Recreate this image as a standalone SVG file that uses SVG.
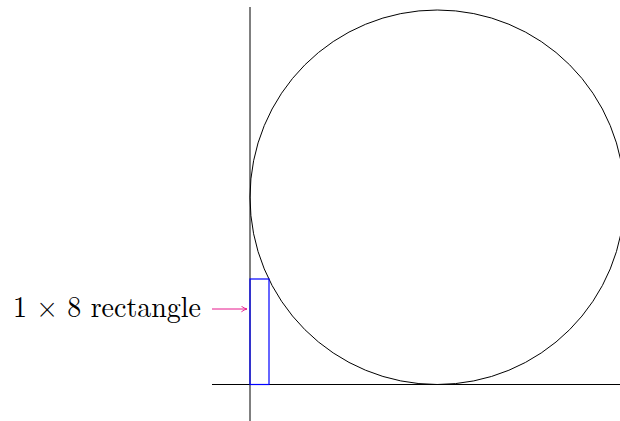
<svg xmlns="http://www.w3.org/2000/svg" width="620" height="421" viewBox="0 0 620 421">
<defs>
<style>
.ax{stroke:#000;stroke-width:1;fill:none}
.lbl{font-family:"Latin Modern Roman","Liberation Serif",serif;font-size:29px;fill:#000}
</style>
<marker id="to" viewBox="0 0 10 10" refX="9" refY="5" markerWidth="7" markerHeight="7" markerUnits="userSpaceOnUse" orient="auto">
<path d="M1,1 Q5,4 9,5 Q5,6 1,9" fill="none" stroke="#e6198c" stroke-width="1.3"/>
</marker>
</defs>
<rect width="620" height="421" fill="#fff"/>
<g id="axes">
<line class="ax" x1="250" y1="7" x2="250" y2="421"/>
<line class="ax" x1="212" y1="384.5" x2="620" y2="384.5"/>
</g>
<g id="circle">
<circle class="ax" cx="437.25" cy="197.25" r="187.25"/>
</g>
<g id="rectangle">
<rect x="250" y="279" width="19" height="105.5" fill="none" stroke="#0000ff" stroke-width="1.2"/>
</g>
<g id="label">
<text class="lbl" x="13" y="317" textLength="188" lengthAdjust="spacingAndGlyphs">1 × 8 rectangle</text>
</g>
<g id="connectors">
<line x1="212" y1="309" x2="247" y2="309" stroke="#e6198c" stroke-width="1" marker-end="url(#to)"/>
</g>
</svg>
